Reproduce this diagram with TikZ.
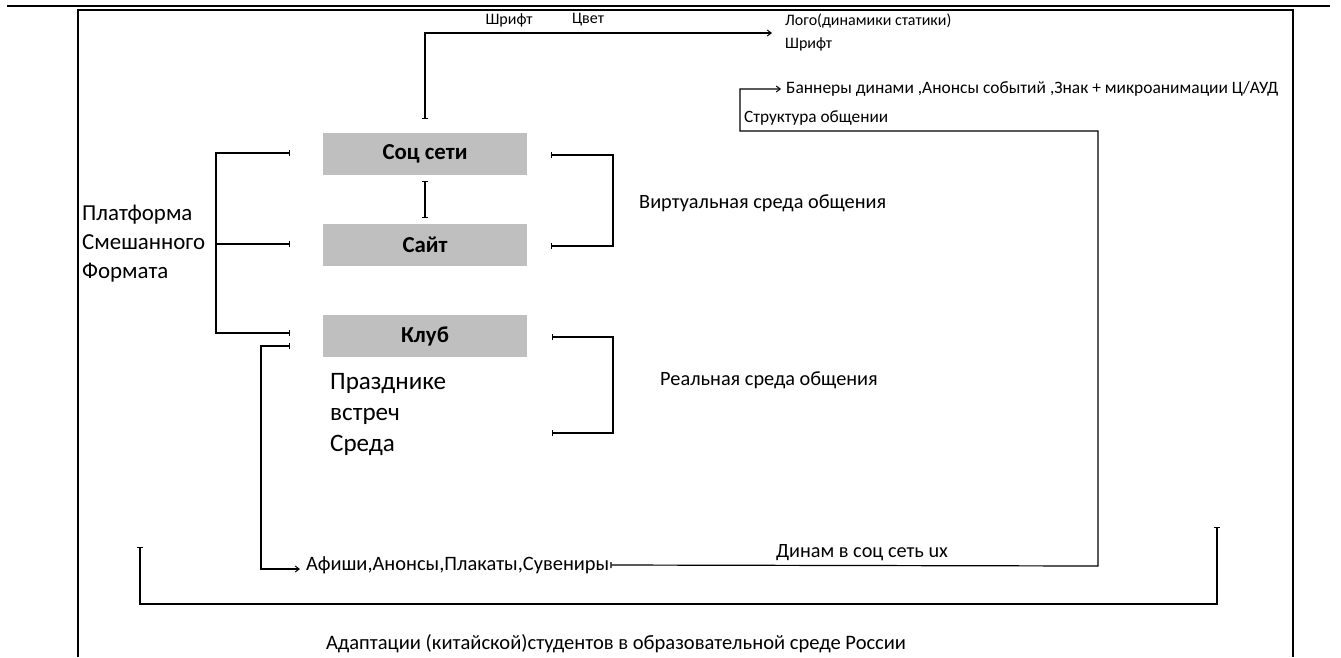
\documentclass[tikz,border=0pt]{standalone}
\usepackage{fontspec}
\setmainfont{Carlito}
\usetikzlibrary{arrows.meta}
\definecolor{boxgray}{RGB}{191,191,191}
\newlength\fitlen
% #1 font switch, #2 target width (pt), #3 sample text -> \fs, \fsb
\newcommand\fitsize[3]{%
  \settowidth\fitlen{\fontsize{10}{12}\selectfont#1#3}%
  \pgfmathsetmacro\fs{10*#2/\fitlen}%
  \pgfmathsetmacro\fsb{1.2*\fs}}
\newcommand\fitto[2]{\fitsize{}{#1}{#2}\fontsize{\fs}{\fsb}\selectfont#2}
\tikzset{
  conn/.style={draw=black, line width=1.2pt},
  teetip/.tip={Bar[width=6pt,line width=1.2pt]},
  arrtip/.tip={Straight Barb[length=4pt,width=6pt,line width=1pt]},
  gbox/.style={fill=boxgray, draw=none, minimum width=204pt, minimum height=42pt, inner sep=0pt,
    font={\fitsize{\bfseries}{85}{Соц сети}\fontsize{\fs}{\fsb}\selectfont\bfseries}},
  lbl/.style={inner sep=0pt, anchor=west, align=left},
  small/.style={lbl, font=\fontsize{16}{23}\selectfont},
}
\begin{document}
\begin{tikzpicture}[x=1pt,y=-1pt]
\useasboundingbox (0,0) rectangle (1341,657);
% top rule and frame
\draw[line width=2.6pt] (7,6) -- (1330,6);
\draw[line width=2pt] (78,657) -- (78,10) -- (1293,10) -- (1293,657);

% boxes
\node[gbox] (soc) at (425,154) {Соц сети};
\node[gbox] (site) at (425,245) {Сайт};
\node[gbox] (club) at (425,336) {Клуб};

% texts
\node[small, anchor=center] (shr1) at (509,20) {Шрифт};
\node[small, anchor=center] (cvet) at (588,20) {Цвет};
\node[small] (logo) at (785,32) {Лого(динамики статики)\\Шрифт};
\node[lbl] (ban) at (786,89) {\fitto{492}{Баннеры динами ,Анонсы событий ,Знак + микроанимации Ц/АУД}};
\node[lbl] (str) at (744,118) {\fitto{144}{Структура общении}};
\node[lbl, font={\fitsize{}{123}{Смешанного}\fontsize{\fs}{29}\selectfont}] (plat) at (82,244) {Платформа\\Смешанного\\Формата};
\node[lbl] (virt) at (639,203) {\fitto{247}{Виртуальная среда общения}};
\node[lbl, font={\fitsize{}{247}{Виртуальная среда общения}\fontsize{\fs}{\fsb}\selectfont}] (real) at (660,380) {Реальная среда общения};
\node[lbl, font={\fitsize{}{116}{Празднике}\fontsize{\fs}{31}\selectfont}] (prazd) at (330,414) {Празднике\\встреч\\Среда};
\node[lbl] (afi) at (306,565) {\fitto{303}{Афиши,Анонсы,Плакаты,Сувениры}};
\node[lbl, anchor=center] (din) at (862,553) {\fitto{172}{Динам в соц сеть ux}};
\node[lbl, anchor=center] (adapt) at (616,644) {\fitto{580}{Адаптации (китайской)студентов в образовательной среде России}};

% coordinates
\coordinate (socUp) at (425,119);
\coordinate (logoIn) at (772,33);
\coordinate (socDn) at (425,181);
\coordinate (siteUp) at (425,218);
\coordinate (pJ) at (216,244);
\coordinate (pL1) at (290,153);
\coordinate (pL2) at (290,244);
\coordinate (pL3) at (290,333);
\coordinate (vR1) at (551,155);
\coordinate (vR2) at (551,246);
\coordinate (rR1) at (552,337);
\coordinate (rR2) at (552,433);
\coordinate (clubL) at (290,346);
\coordinate (afiIn) at (300,569);
\coordinate (banIn) at (781,89);
\coordinate (bL) at (140,547);
\coordinate (bR) at (1217,527);

% connectors
\draw[conn, teetip-arrtip] (socUp) -- (socUp |- logoIn) -- (logoIn);
\draw[conn, teetip-teetip] (socDn) -- (siteUp);
\draw[conn, -teetip] (pJ) -- (pL2);
\draw[conn, teetip-teetip] (pL1) -- (pL1 -| pJ) -- (pL3 -| pJ) -- (pL3);
\draw[conn, teetip-teetip] (vR1) -- (613,155) -- (613,246) -- (vR2);
\draw[conn, teetip-teetip] (rR1) -- (613,337) -- (613,433) -- (rR2);
\draw[conn, teetip-arrtip] (clubL) -- (261,346) -- (261,569) -- (afiIn);
\draw[conn, teetip-arrtip] ([xshift=1pt]afi.east) -- (1098,566) -- (1098,131) -- (740,131) -- (740,89) -- (banIn);
\draw[conn, teetip-teetip] (bL) -- (140,604) -- (1217,604) -- (bR);
\end{tikzpicture}
\end{document}
